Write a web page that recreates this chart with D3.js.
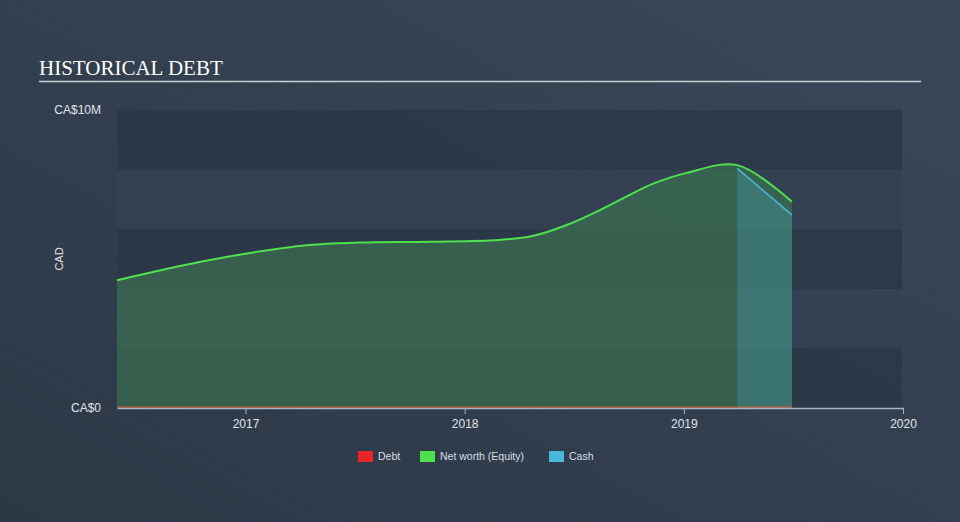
<!DOCTYPE html>
<html><head><meta charset="utf-8">
<script src="https://cdn.jsdelivr.net/npm/d3@7"></script>
<style>
html,body{margin:0;padding:0;width:960px;height:522px;overflow:hidden;}
svg{display:block;}
</style></head>
<body>
<svg id="chart" width="960" height="522"></svg>
<script>
const netWorthDates = ["2016-06-01","2016-11-03","2017-04-17","2017-07-10","2017-11-04","2018-02-28","2018-04-24","2018-06-20","2018-08-14","2018-10-03","2018-11-10","2019-01-06","2019-03-31","2019-06-30"];
const netWorthValues = [4.29,4.97,5.47,5.55,5.58,5.64,5.77,6.14,6.64,7.15,7.52,7.89,8.15,6.92];
const cashDates = ["2019-03-31","2019-06-30"];
const cashValues = [8.04,6.48];
const debtDates = ["2016-06-01","2019-06-30"];
const debtValues = [0,0];
const yTickValues = [0,10];
const yTickLabels = ["CA$0","CA$10M"];
const xTickYears = [2017,2018,2019,2020];
const legendLabels = ["Debt","Net worth (Equity)","Cash"];
const legendColors = ["#e8262a","#4ee04e","#4ab8dc"];

const parse = d3.timeParse("%Y-%m-%d");
const svg = d3.select("#chart");
const defs = svg.append("defs");
const g0 = defs.append("linearGradient").attr("id","bg").attr("x1","0").attr("y1","1").attr("x2","1").attr("y2","0");
g0.append("stop").attr("offset","0").attr("stop-color","#2c3846");
g0.append("stop").attr("offset","1").attr("stop-color","#3a4758");
svg.append("rect").attr("width",960).attr("height",522).attr("fill","url(#bg)");

const pL=117, pR=902, pT=110, pB=408;
const x = d3.scaleTime().domain([parse("2016-06-01"), new Date(2020,0,1)]).range([pL, 903]);
const y = d3.scaleLinear().domain([0,10]).range([pB, pT]);

// bands
const bandEdges = d3.range(0,10.01,2);
for (let i=0;i<5;i++){
  svg.append("rect").attr("x",pL).attr("width",pR-pL)
    .attr("y",y(bandEdges[i+1])).attr("height",y(bandEdges[i])-y(bandEdges[i+1]))
    .attr("fill", i%2===0 ? "#2b3747" : "#334152").attr("opacity",0.85);
}

// title
svg.append("text").attr("x",39).attr("y",75).text("HISTORICAL DEBT")
  .attr("font-family","'Liberation Serif','Times New Roman',serif").attr("font-size",21).attr("fill","#ffffff");
svg.append("line").attr("x1",39).attr("x2",921).attr("y1",81.5).attr("y2",81.5).attr("stroke","#c9ced6").attr("stroke-width",1.5);

const nw = netWorthDates.map((d,i)=>({d:parse(d),v:netWorthValues[i]}));
const cash = cashDates.map((d,i)=>({d:parse(d),v:cashValues[i]}));
const debt = debtDates.map((d,i)=>({d:parse(d),v:debtValues[i]}));

const curve = d3.curveCatmullRom.alpha(0.5);
const area = d3.area().x(d=>x(d.d)).y0(y(0)).y1(d=>y(d.v)).curve(curve);
const line = d3.line().x(d=>x(d.d)).y(d=>y(d.v)).curve(curve);

svg.append("path").datum(nw).attr("d",area).attr("fill","#3e7a52").attr("opacity",0.6);
svg.append("path").datum(cash).attr("d",d3.area().x(d=>x(d.d)).y0(y(0)).y1(d=>y(d.v))).attr("fill","#4ab8dc").attr("opacity",0.24);
svg.append("path").datum(nw).attr("d",line).attr("fill","none").attr("stroke","#4ee04e").attr("stroke-width",2);
svg.append("path").datum(cash).attr("d",d3.line().x(d=>x(d.d)).y(d=>y(d.v))).attr("fill","none").attr("stroke","#4ab8dc").attr("stroke-width",1.5);
svg.append("path").datum(debt).attr("d",d3.line().x(d=>x(d.d)).y(d=>y(d.v)-1)).attr("fill","none").attr("stroke","#e8562a").attr("stroke-width",1.2);

// x axis
const xAxis = d3.axisBottom(x).tickValues(xTickYears.map(yr=>new Date(yr,0,1))).tickFormat(d3.timeFormat("%Y")).tickSize(6).tickSizeOuter(0);
const gx = svg.append("g").attr("transform",`translate(0,${pB})`).call(xAxis);
gx.select(".domain").attr("stroke","#a8b4c4").attr("stroke-width",1.5);
gx.selectAll(".tick line").attr("stroke","#a8b4c4");
gx.selectAll(".tick text").attr("fill","#e0e4ea").attr("font-family","'Liberation Sans',Arial,sans-serif").attr("font-size",12).attr("dy","0.9em");

// y labels
svg.selectAll(".ylab").data(yTickValues).enter().append("text")
  .attr("x",101).attr("y",d=>y(d)+4).attr("text-anchor","end")
  .text((d,i)=>yTickLabels[i]).attr("fill","#e0e4ea")
  .attr("font-family","'Liberation Sans',Arial,sans-serif").attr("font-size",12);
svg.append("text").attr("transform","translate(63,259) rotate(-90)").attr("text-anchor","middle")
  .text("CAD").attr("fill","#e0e4ea").attr("font-family","'Liberation Sans',Arial,sans-serif").attr("font-size",11);

// legend
const legX = [358,420,549];
legendLabels.forEach((l,i)=>{
  svg.append("rect").attr("x",legX[i]).attr("y",451).attr("width",15).attr("height",11).attr("fill",legendColors[i]);
  svg.append("text").attr("x",legX[i]+20).attr("y",460).text(l).attr("fill","#d8dde4")
    .attr("font-family","'Liberation Sans',Arial,sans-serif").attr("font-size",10.5);
});
</script>
</body></html>
